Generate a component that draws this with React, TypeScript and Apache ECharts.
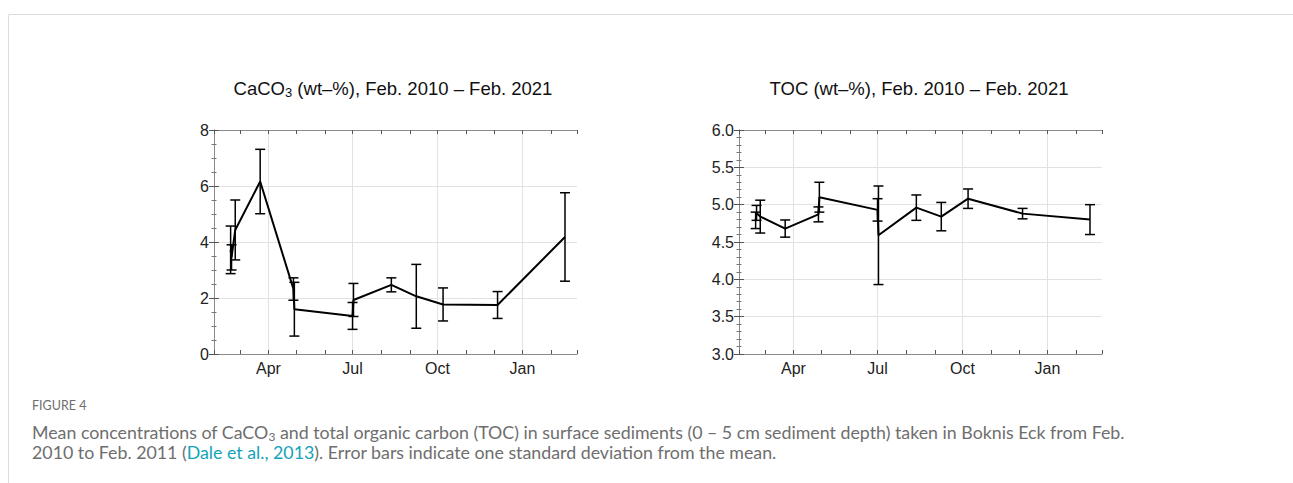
import React, { useEffect, useRef } from "react";
import * as echarts from "echarts";

// ---- data ----
const sampleDates = [
  "2010-02-19", "2010-02-20", "2010-02-24", "2010-03-23", "2010-04-28", "2010-04-29",
  "2010-07-01", "2010-07-02", "2010-08-12", "2010-09-08", "2010-10-07", "2010-12-05", "2011-02-16",
];
const caco3Mean = [3.72, 3.45, 4.43, 6.16, 2.32, 1.6, 1.36, 1.93, 2.47, 2.06, 1.77, 1.75, 4.18];
const caco3Sd = [0.85, 0.45, 1.07, 1.15, 0.4, 0.96, 0.48, 0.59, 0.25, 1.14, 0.59, 0.48, 1.58];
const tocMean = [4.79, 4.89, 4.84, 4.68, 4.87, 5.1, 4.93, 4.59, 4.96, 4.84, 5.08, 4.88, 4.8];
const tocSd = [0.11, 0.1, 0.22, 0.115, 0.1, 0.2, 0.15, 0.66, 0.17, 0.19, 0.13, 0.07, 0.2];

const axisStart = "2010-02-01";
const axisEnd = "2011-03-01";
const monthStarts = [
  "2010-02-01", "2010-03-01", "2010-04-01", "2010-05-01", "2010-06-01", "2010-07-01", "2010-08-01",
  "2010-09-01", "2010-10-01", "2010-11-01", "2010-12-01", "2011-01-01", "2011-02-01", "2011-03-01",
];
const quarterDates = ["2010-04-01", "2010-07-01", "2010-10-01", "2011-01-01"];
const quarterNames = ["Apr", "Jul", "Oct", "Jan"];

const caco3Axis = { min: 0, max: 8, interval: 2 };
const tocAxis = { min: 3, max: 6, interval: 0.5 };

const titleCaco3 = ["CaCO", "3", " (wt–%), Feb. 2010 – Feb. 2021"];
const titleToc = "TOC (wt–%), Feb. 2010 – Feb. 2021";
const figLabel = "FIGURE 4";
const captionLine1 = ["Mean concentrations of CaCO", "3", " and total organic carbon (TOC) in surface sediments (0 – 5 cm sediment depth) taken in Boknis Eck from Feb."];
const captionLine2 = ["2010 to Feb. 2011 (", "Dale et al., 2013", "). Error bars indicate one standard deviation from the mean."];

const DAY = 86400000;
const dayOf = (s: string) => (Date.parse(s) - Date.parse(axisStart)) / DAY;

export default function App() {
  const ref = useRef<HTMLDivElement>(null);

  useEffect(() => {
    if (!ref.current) return;
    const chart = echarts.init(ref.current, null, { renderer: "svg" });

    const xMin = 0;
    const xMax = dayOf(axisEnd);
    const monthDays = monthStarts.map(dayOf);
    const quarterDays = quarterDates.map(dayOf);
    const days = sampleDates.map(dayOf);

    const axisLineStyle = { color: "#8a8a8a", width: 1 };
    const tickStyle = { color: "#555", width: 1 };
    const labelFont = { fontFamily: "Liberation Sans, Arial, sans-serif", fontSize: 16, color: "#222" };

    const grids = [
      { left: 214, top: 130, width: 363, height: 224 },
      { left: 739, top: 130, width: 363, height: 224 },
    ];

    const xAxes: any[] = [];
    grids.forEach((_, gi) => {
      xAxes.push({
        type: "value", gridIndex: gi, position: "bottom", min: xMin, max: xMax,
        axisLine: { show: false },
        axisTick: { show: false, customValues: quarterDays },
        axisLabel: {
          ...labelFont, margin: 6, customValues: quarterDays,
          formatter: (v: number) => {
            const i = quarterDays.findIndex((q) => Math.abs(q - v) < 0.5);
            return i >= 0 ? quarterNames[i] : "";
          },
        },
        splitLine: { show: true, lineStyle: { color: "#e2e2e2", width: 1 } },
      });
      xAxes.push({
        type: "value", gridIndex: gi, position: "bottom", min: xMin, max: xMax,
        axisLine: { show: true, lineStyle: axisLineStyle },
        axisTick: { show: true, inside: true, length: 4, lineStyle: tickStyle, customValues: monthDays },
        axisLabel: { show: false },
        splitLine: { show: false },
      });
      xAxes.push({
        type: "value", gridIndex: gi, position: "top", min: xMin, max: xMax,
        axisLine: { show: true, lineStyle: axisLineStyle },
        axisTick: { show: true, inside: true, length: 4, lineStyle: tickStyle, customValues: monthDays },
        axisLabel: { show: false },
        splitLine: { show: false },
      });
    });

    const yAxes: any[] = [];
    [caco3Axis, tocAxis].forEach((ax, gi) => {
      const minorSplit = gi === 0 ? 4 : 5;
      const fmt = (v: number) => (gi === 0 ? String(v) : v.toFixed(1));
      yAxes.push({
        type: "value", gridIndex: gi, position: "left", min: ax.min, max: ax.max, interval: ax.interval,
        axisLine: { show: true, lineStyle: axisLineStyle },
        axisTick: { show: true, inside: true, length: 5, lineStyle: tickStyle },
        minorTick: { show: true, splitNumber: minorSplit, length: 2.5, lineStyle: { color: "#777", width: 1 } },
        axisLabel: { ...labelFont, margin: 5, formatter: fmt },
        splitLine: { show: true, lineStyle: { color: "#e2e2e2", width: 1 } },
      });
      yAxes.push({
        type: "value", gridIndex: gi, position: "right", min: ax.min, max: ax.max, interval: ax.interval,
        axisLine: { show: true, lineStyle: axisLineStyle },
        axisTick: { show: true, inside: true, length: 5, lineStyle: tickStyle },
        minorTick: { show: true, splitNumber: minorSplit, length: 2.5, lineStyle: { color: "#777", width: 1 } },
        axisLabel: { show: false },
        splitLine: { show: false },
      });
    });

    const errRender = (_params: any, api: any) => {
      const x = api.value(0);
      const m = api.value(1);
      const s = api.value(2);
      const top = api.coord([x, m + s]);
      const bot = api.coord([x, m - s]);
      const w = 5;
      const st = { stroke: "#000", lineWidth: 1.5 };
      return {
        type: "group",
        children: [
          { type: "line", shape: { x1: top[0], y1: top[1], x2: bot[0], y2: bot[1] }, style: st },
          { type: "line", shape: { x1: top[0] - w, y1: top[1], x2: top[0] + w, y2: top[1] }, style: st },
          { type: "line", shape: { x1: bot[0] - w, y1: bot[1], x2: bot[0] + w, y2: bot[1] }, style: st },
        ],
      };
    };

    const lineData = (means: number[]) => days.map((d, i) => [d, means[i]]);
    const errData = (means: number[], sds: number[]) => days.map((d, i) => [d, means[i], sds[i]]);

    const series: any[] = [
      {
        type: "custom", xAxisIndex: 0, yAxisIndex: 0, renderItem: errRender,
        data: errData(caco3Mean, caco3Sd), encode: { x: 0, y: 1 }, z: 3,
      },
      {
        type: "line", xAxisIndex: 0, yAxisIndex: 0, data: lineData(caco3Mean),
        showSymbol: false, symbol: "none", lineStyle: { color: "#000", width: 2 }, z: 4,
      },
      {
        type: "custom", xAxisIndex: 3, yAxisIndex: 2, renderItem: errRender,
        data: errData(tocMean, tocSd), encode: { x: 0, y: 1 }, z: 3,
      },
      {
        type: "line", xAxisIndex: 3, yAxisIndex: 2, data: lineData(tocMean),
        showSymbol: false, symbol: "none", lineStyle: { color: "#000", width: 2 }, z: 4,
      },
    ];

    const titleFont = "Liberation Sans, Arial, sans-serif";
    const capFont = "Lato, 'Open Sans', sans-serif";
    const capColor = "#6e6e6e";
    const capSize = 17.8;

    const graphic: any[] = [
      { type: "line", shape: { x1: 9, y1: 14.5, x2: 1293, y2: 14.5 }, style: { stroke: "#dcdcdc", lineWidth: 1 } },
      { type: "line", shape: { x1: 8.5, y1: 14.5, x2: 8.5, y2: 483 }, style: { stroke: "#dcdcdc", lineWidth: 1 } },
      {
        type: "text", x: 393, y: 88,
        style: {
          text: `{a|${titleCaco3[0]}}{s|${titleCaco3[1]}}{a|${titleCaco3[2]}}`,
          align: "center", verticalAlign: "middle",
          rich: {
            a: { fontFamily: titleFont, fontSize: 18.5, fill: "#111", lineHeight: 22 },
            s: { fontFamily: titleFont, fontSize: 13, fill: "#111", lineHeight: 12, verticalAlign: "bottom" },
          },
        },
      },
      {
        type: "text", x: 919, y: 88,
        style: {
          text: titleToc, align: "center", verticalAlign: "middle",
          fontFamily: titleFont, fontSize: 18.5, fill: "#111",
        },
      },
      {
        type: "text", x: 32, y: 405,
        style: { text: figLabel, verticalAlign: "middle", fontFamily: capFont, fontSize: 12.5, fill: capColor },
      },
      {
        type: "text", x: 32, y: 432,
        style: {
          text: `{a|${captionLine1[0]}}{s|${captionLine1[1]}}{a|${captionLine1[2]}}`,
          verticalAlign: "middle",
          rich: {
            a: { fontFamily: capFont, fontSize: capSize, fill: capColor, lineHeight: 20 },
            s: { fontFamily: capFont, fontSize: 12, fill: capColor, lineHeight: 11, verticalAlign: "bottom" },
          },
        },
      },
      {
        type: "text", x: 32, y: 452,
        style: {
          text: `{a|${captionLine2[0]}}{l|${captionLine2[1]}}{a|${captionLine2[2]}}`,
          verticalAlign: "middle",
          rich: {
            a: { fontFamily: capFont, fontSize: capSize, fill: capColor, lineHeight: 20 },
            l: { fontFamily: capFont, fontSize: capSize, fill: "#14a3b8", lineHeight: 20 },
          },
        },
      },
    ];

    chart.setOption({
      animation: false,
      backgroundColor: "#fff",
      grid: grids,
      xAxis: xAxes,
      yAxis: yAxes,
      series,
      graphic,
    });

    return () => chart.dispose();
  }, []);

  return (
    <div style={{ position: "absolute", left: 0, top: 0, width: 1293, height: 483, background: "#fff" }}>
      <div ref={ref} style={{ width: 1293, height: 483 }} />
    </div>
  );
}
